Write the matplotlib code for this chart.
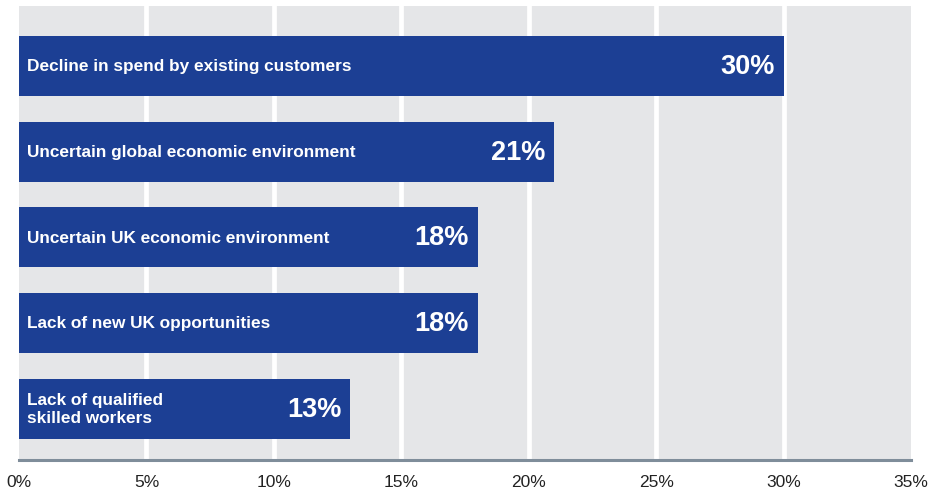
import matplotlib.pyplot as plt
import numpy as np

# Barriers to growth - share of respondents
categories = [
    "Decline in spend by existing customers",
    "Uncertain global economic environment",
    "Uncertain UK economic environment",
    "Lack of new UK opportunities",
    "Lack of qualified\nskilled workers",
]
values = [30, 21, 18, 18, 13]
ticks = [0, 5, 10, 15, 20, 25, 30, 35]
tick_labels = ["0%", "5%", "10%", "15%", "20%", "25%", "30%", "35%"]

plt.rcParams["font.family"] = ["Liberation Sans", "DejaVu Sans"]

bleu = "#1c3f94"
gris = "#e5e6e8"

fig = plt.figure(figsize=(9.35, 4.89), dpi=100)
ax = fig.add_axes([19 / 935, 28 / 489, 892 / 935, 454 / 489])
ax.set_facecolor(gris)

y = np.arange(len(categories))
ax.barh(y, values, height=0.7, color=bleu, zorder=3)

# white separators between the grey columns
for t in ticks[1:-1]:
    ax.axvline(t, color="white", lw=3.4, zorder=2)

for i, (cat, val) in enumerate(zip(categories, values)):
    ax.text(0.3, i, cat, color="white", fontsize=12.4, fontweight="bold",
            ha="left", va="center", linespacing=1.3, zorder=4)
    ax.text(val - 0.35, i, f"{val}%", color="white", fontsize=19.5,
            fontweight="bold", ha="right", va="center", zorder=4)

ax.set_xlim(0, 35)
ax.set_ylim(4.6, -0.7)
ax.set_yticks([])
ax.set_xticks(ticks)
ax.set_xticklabels(tick_labels, fontsize=12.5, color="#222222")
ax.tick_params(axis="x", length=0, pad=10)

for s in ["top", "right", "left"]:
    ax.spines[s].set_visible(False)
ax.spines["bottom"].set_color("#7f8d9a")
ax.spines["bottom"].set_linewidth(2.2)

plt.savefig("out.png", dpi=100)
